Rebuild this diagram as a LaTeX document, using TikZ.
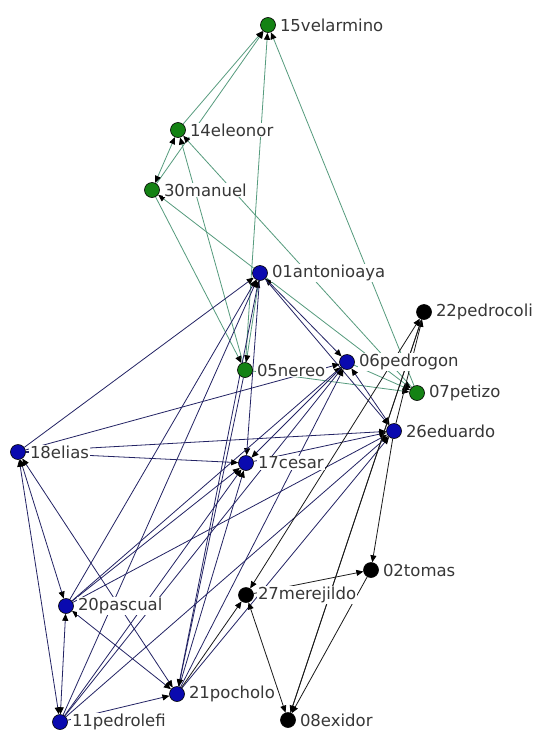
\documentclass[tikz,border=0pt]{standalone}
\usepackage{fontspec}
\newfontfamily\labfont{DejaVu Sans}
\usetikzlibrary{arrows.meta}
\pgfdeclarelayer{bg}
\pgfdeclarelayer{edges}
\pgfsetlayers{bg,edges,main}
\definecolor{ngreen}{RGB}{20,130,20}
\definecolor{nblue}{RGB}{10,10,175}
\definecolor{egreen}{RGB}{85,155,125}
\definecolor{enavy}{RGB}{35,35,100}
\definecolor{eblack}{RGB}{25,25,25}
\definecolor{labgray}{RGB}{55,55,55}
\tikzset{
  nd/.style={circle, draw=black, line width=0.6pt, minimum size=15pt, inner sep=0pt},
  gn/.style={nd, fill=ngreen},
  bn/.style={nd, fill=nblue},
  kn/.style={nd, fill=black},
  lab/.style={anchor=west, fill=white, inner sep=1pt, text=labgray,
    font=\labfont\fontsize{16.5}{18}\selectfont},
  tip/.tip={Triangle[length=7pt,width=6pt,black]},
  eg/.style={draw=egreen, line width=0.8pt, -tip},
  eb/.style={draw=enavy, line width=0.8pt, -tip},
  ek/.style={draw=eblack, line width=0.8pt, -tip},
  mut/.style={tip-tip},
}
\begin{document}
\begin{tikzpicture}[x=1pt,y=-1pt]
\begin{pgfonlayer}{bg}
\path[fill=white] (0,0) rectangle (541,731);
\end{pgfonlayer}
\useasboundingbox (0,0) rectangle (541,731);
% nodes
\node[gn] (n15) at (268,25) {};
\node[gn] (n14) at (178,130) {};
\node[gn] (n30) at (152,190) {};
\node[bn] (n01) at (260,273) {};
\node[gn] (n05) at (245,370) {};
\node[bn] (n06) at (347,362) {};
\node[kn] (n22) at (424,312) {};
\node[gn] (n07) at (417,393) {};
\node[bn] (n26) at (394,431) {};
\node[bn] (n18) at (18,452) {};
\node[bn] (n17) at (246,463) {};
\node[kn] (n02) at (371,570) {};
\node[kn] (n27) at (246,595) {};
\node[bn] (n20) at (66,606) {};
\node[bn] (n21) at (177,694) {};
\node[bn] (n11) at (60,722) {};
\node[kn] (n08) at (288,720) {};
\begin{pgfonlayer}{edges}
% green edges
\draw[eg] (n14) -- (n15);
\draw[eg] (n30) -- (n15);
\draw[eg] (n05) -- (n15);
\draw[eg] (n07) -- (n15);
\draw[eg,mut] (n30) -- (n14);
\draw[eg] (n05) -- (n14);
\draw[eg] (n07) -- (n14);
\draw[eg] (n01) -- (n30);
\draw[eg] (n01) -- (n05);
\draw[eg] (n30) -- (n05);
\draw[eg] (n01) -- (n07);
\draw[eg] (n05) -- (n07);
\draw[eg] (n06) -- (n07);
% navy edges
\draw[eb,mut] (n01) -- (n06);
\draw[eb] (n01) -- (n26);
\draw[eb,mut] (n06) -- (n26);
\draw[eb] (n18) -- (n01);
\draw[eb] (n20) -- (n01);
\draw[eb] (n11) -- (n01);
\draw[eb,mut] (n21) -- (n01);
\draw[eb] (n01) -- (n17);
\draw[eb] (n18) -- (n06);
\draw[eb] (n20) -- (n06);
\draw[eb] (n11) -- (n06);
\draw[eb] (n21) -- (n06);
\draw[eb] (n06) -- (n17);
\draw[eb] (n18) -- (n26);
\draw[eb] (n20) -- (n26);
\draw[eb] (n11) -- (n26);
\draw[eb] (n21) -- (n26);
\draw[eb] (n17) -- (n26);
\draw[eb] (n18) -- (n17);
\draw[eb] (n20) -- (n17);
\draw[eb] (n11) -- (n17);
\draw[eb] (n21) -- (n17);
\draw[eb,mut] (n18) -- (n20);
\draw[eb,mut] (n18) -- (n11);
\draw[eb,mut] (n11) -- (n20);
\draw[eb,mut] (n20) -- (n21);
\draw[eb,mut] (n18) -- (n21);
\draw[eb] (n11) -- (n21);
\draw[eb] (n05) -- (n21);
% black edges
\draw[ek] (n26) -- (n22);
\draw[ek] (n08) -- (n22);
\draw[ek,mut] (n22) -- (n27);
\draw[ek] (n26) -- (n02);
\draw[ek] (n27) -- (n02);
\draw[ek] (n21) -- (n27);
\draw[ek,mut] (n08) -- (n27);
\draw[ek] (n02) -- (n08);
\draw[ek] (n22) -- (n08);
\end{pgfonlayer}
% labels
\node[lab] (l15) at ([xshift=3pt]n15.east) {15velarmino};
\node[lab] (l14) at ([xshift=3pt]n14.east) {14eleonor};
\node[lab] (l30) at ([xshift=3pt]n30.east) {30manuel};
\node[lab] (l01) at ([xshift=3pt]n01.east) {01antonioaya};
\node[lab] (l05) at ([xshift=3pt]n05.east) {05nereo};
\node[lab] (l06) at ([xshift=3pt]n06.east) {06pedrogon};
\node[lab] (l22) at ([xshift=3pt]n22.east) {22pedrocoli};
\node[lab] (l07) at ([xshift=3pt]n07.east) {07petizo};
\node[lab] (l26) at ([xshift=3pt]n26.east) {26eduardo};
\node[lab] (l18) at ([xshift=3pt]n18.east) {18elias};
\node[lab] (l17) at ([xshift=3pt]n17.east) {17cesar};
\node[lab] (l02) at ([xshift=3pt]n02.east) {02tomas};
\node[lab] (l27) at ([xshift=3pt]n27.east) {27merejildo};
\node[lab] (l20) at ([xshift=3pt]n20.east) {20pascual};
\node[lab] (l21) at ([xshift=3pt]n21.east) {21pocholo};
\node[lab] (l11) at ([xshift=3pt]n11.east) {11pedrolefi};
\node[lab] (l08) at ([xshift=3pt]n08.east) {08exidor};
\end{tikzpicture}
\end{document}
